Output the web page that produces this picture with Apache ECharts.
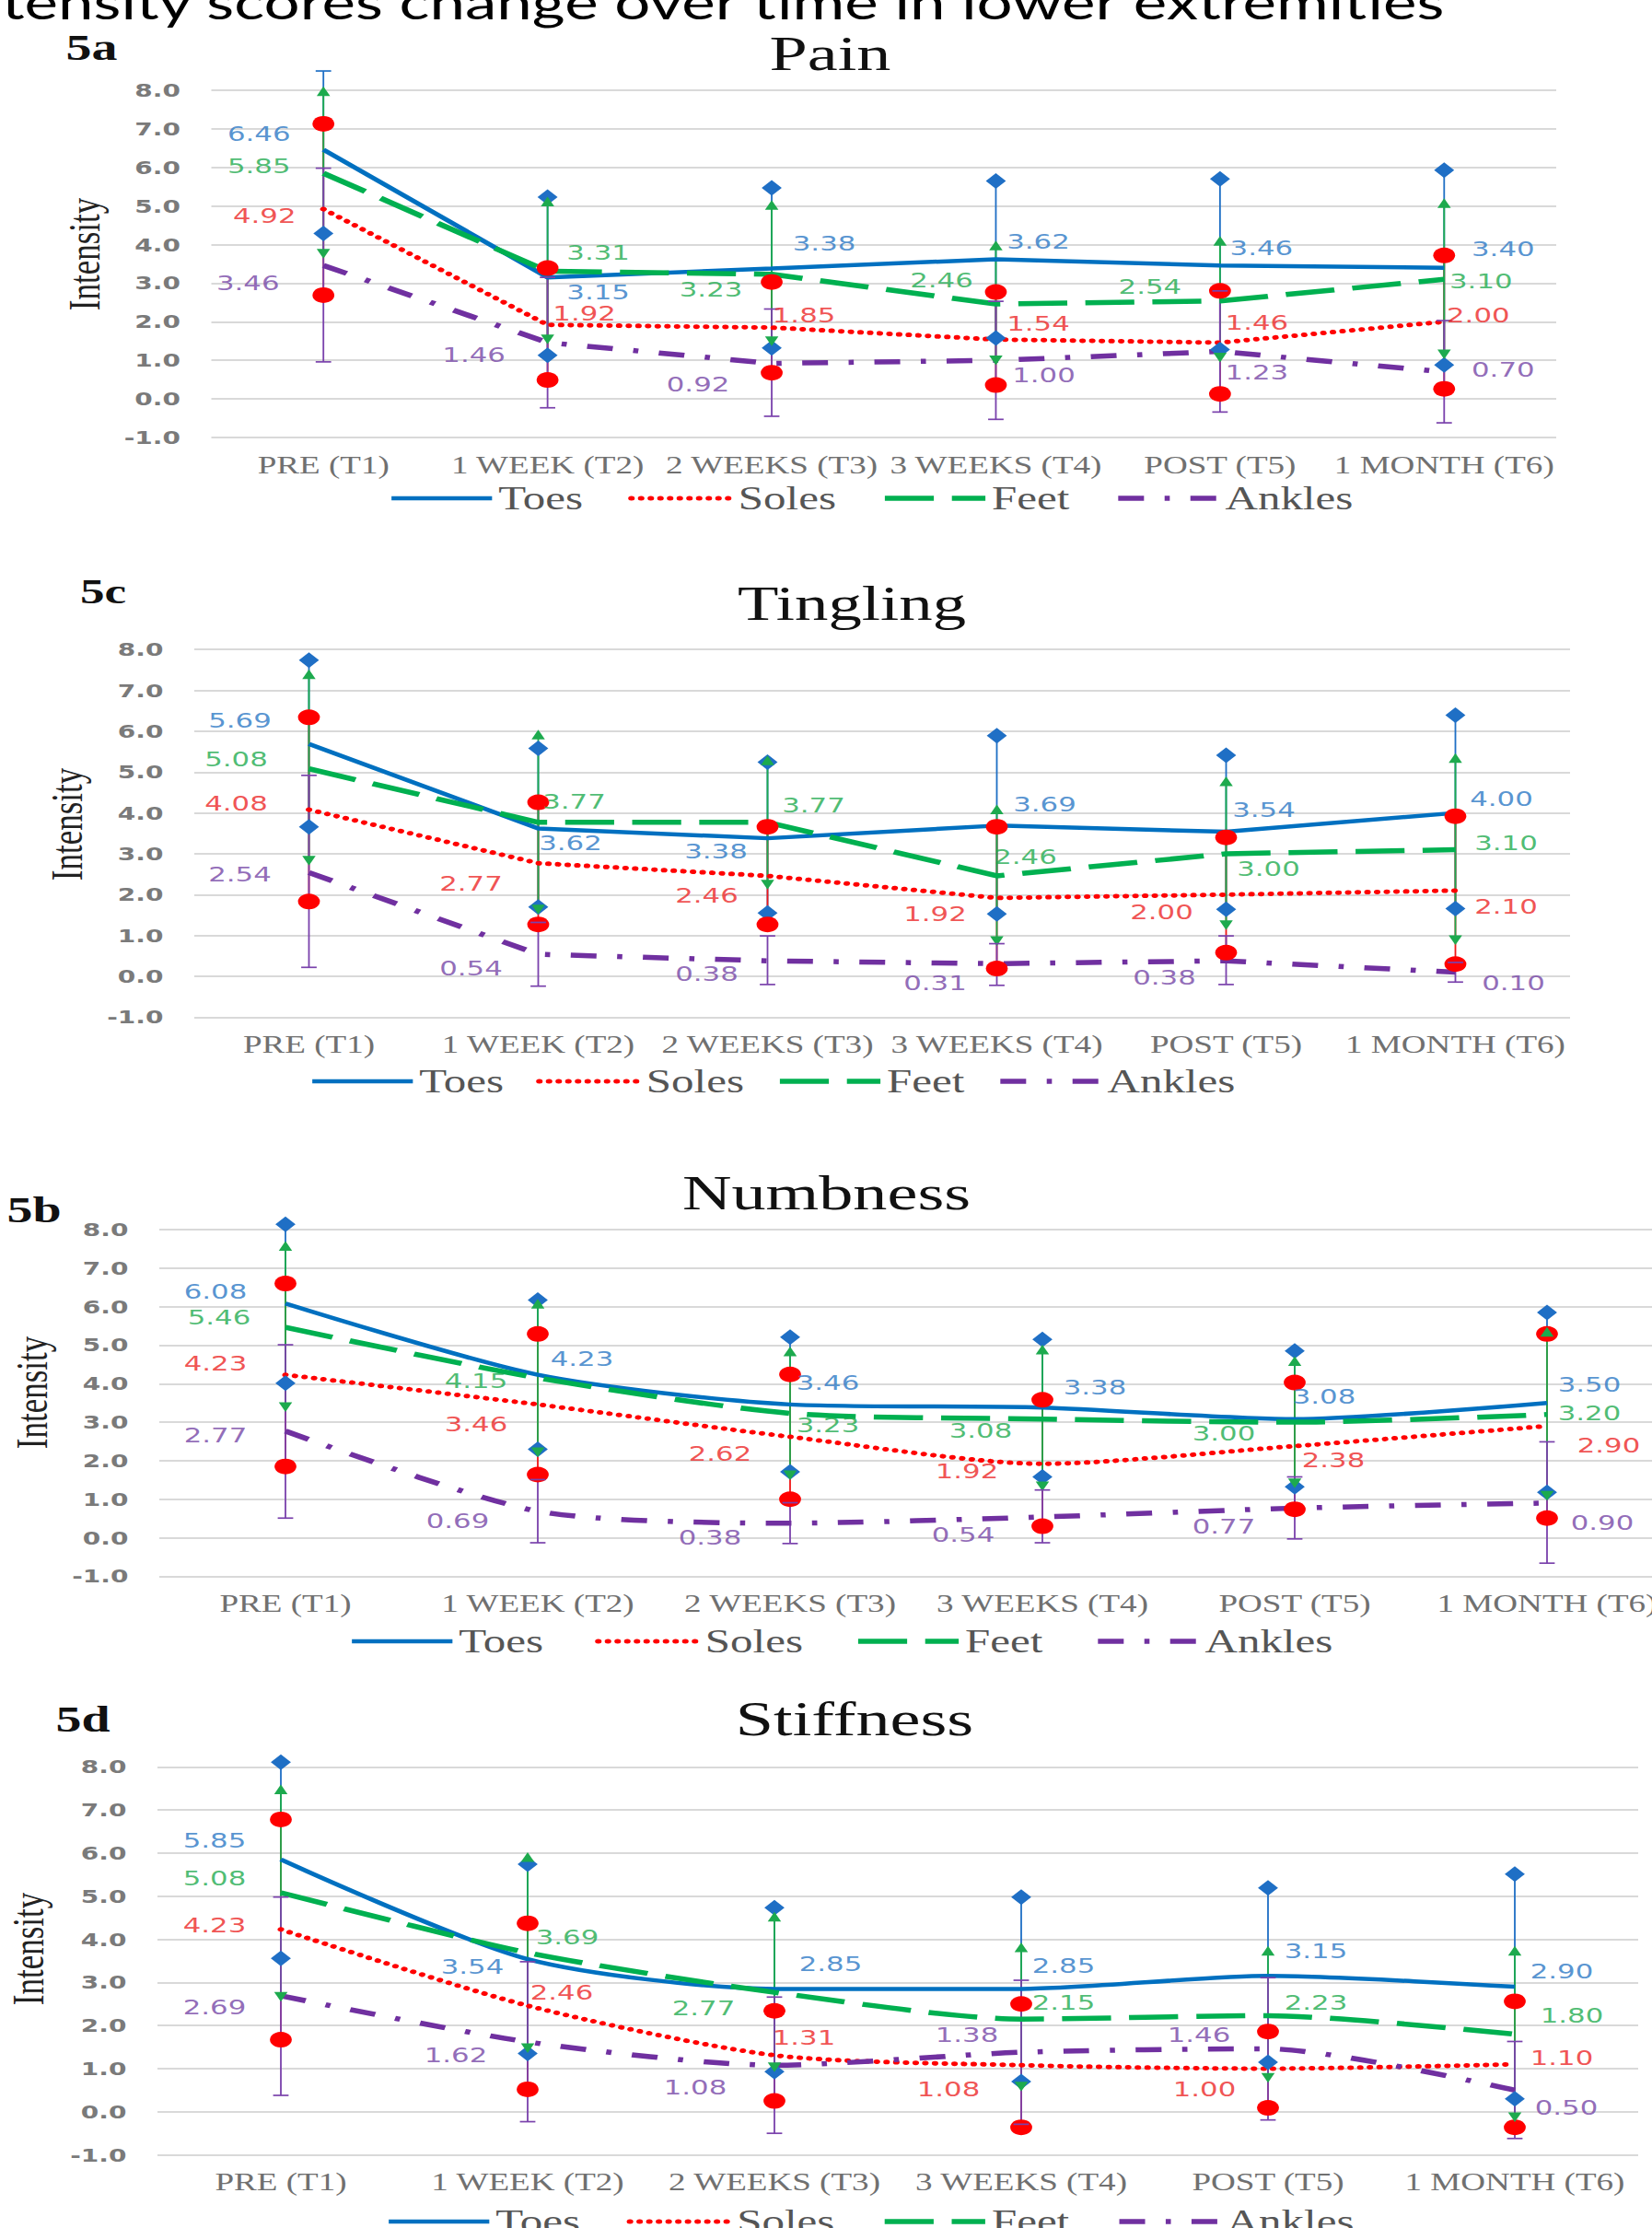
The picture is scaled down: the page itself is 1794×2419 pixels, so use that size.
<!DOCTYPE html>
<html>
<head>
<meta charset="utf-8">
<script src="https://cdn.jsdelivr.net/npm/echarts@6/dist/echarts.min.js"></script>
<style>
html,body{margin:0;padding:0;background:#fff;overflow:hidden;width:1794px;height:2419px;}
#chart{width:1282px;height:2419px;transform:scaleX(1.4);transform-origin:0 0;}
</style>
</head>
<body>
<div id="chart"></div>
<script>
// ---------------- data ----------------
const categories = ['PRE (T1)', '1 WEEK (T2)', '2 WEEKS (T3)', '3 WEEKS (T4)', 'POST (T5)', '1 MONTH (T6)'];
const seriesNames = ['Toes', 'Soles', 'Feet', 'Ankles'];
const yMin = -1, yMax = 8, yStep = 1;
const pageTitle = 'tensity scores change over time in lower extremities';

// 5a Pain  (rows: Toes, Soles, Feet, Ankles)
const painMean = [
  [6.46, 3.15, 3.38, 3.62, 3.46, 3.40],
  [4.92, 1.92, 1.85, 1.54, 1.46, 2.00],
  [5.85, 3.31, 3.23, 2.46, 2.54, 3.10],
  [3.46, 1.46, 0.92, 1.00, 1.23, 0.70]
];
const painLow = [
  [4.29, 1.13, 1.32, 1.58, 1.28, 0.88],
  [2.69, 0.49, 0.68, 0.36, 0.13, 0.26],
  [3.78, 1.56, 1.51, 1.02, 1.09, 1.17],
  [0.96, -0.23, -0.45, -0.53, -0.34, -0.62]
];
const painHigh = [
  [8.63, 5.23, 5.47, 5.65, 5.70, 5.93],
  [7.13, 3.39, 3.03, 2.77, 2.80, 3.72],
  [7.96, 5.10, 5.01, 3.96, 4.08, 5.06],
  [5.98, 3.15, 2.33, 2.53, 2.80, 2.03]
];

// 5c Tingling
const tinglingMean = [
  [5.69, 3.62, 3.38, 3.69, 3.54, 4.00],
  [4.08, 2.77, 2.46, 1.92, 2.00, 2.10],
  [5.08, 3.77, 3.77, 2.46, 3.00, 3.10],
  [2.54, 0.54, 0.38, 0.31, 0.38, 0.10]
];
const tinglingLow = [
  [3.66, 1.70, 1.55, 1.53, 1.64, 1.66],
  [1.83, 1.27, 1.27, 0.19, 0.58, 0.30],
  [2.85, 1.65, 2.26, 0.88, 1.27, 0.90],
  [0.22, -0.24, -0.20, -0.22, -0.20, -0.14]
];
const tinglingHigh = [
  [7.74, 5.58, 5.24, 5.89, 5.41, 6.39],
  [6.34, 4.26, 3.66, 3.66, 3.40, 3.92],
  [7.38, 5.90, 5.27, 4.07, 4.76, 5.33],
  [4.92, 1.32, 0.99, 0.80, 0.99, 0.34]
];

// 5b Numbness
const numbnessMean = [
  [6.08, 4.23, 3.46, 3.38, 3.08, 3.50],
  [4.23, 3.46, 2.62, 1.92, 2.38, 2.90],
  [5.46, 4.15, 3.23, 3.08, 3.00, 3.20],
  [2.77, 0.69, 0.38, 0.54, 0.77, 0.90]
];
const numbnessLow = [
  [4.01, 2.30, 1.71, 1.58, 1.32, 1.18],
  [1.85, 1.64, 1.00, 0.30, 0.74, 0.51],
  [3.41, 2.24, 1.64, 1.35, 1.43, 1.11],
  [0.51, -0.13, -0.15, -0.13, -0.03, -0.66]
];
const numbnessHigh = [
  [8.14, 6.17, 5.21, 5.15, 4.85, 5.85],
  [6.60, 5.29, 4.24, 3.58, 4.03, 5.29],
  [7.56, 6.06, 4.82, 4.87, 4.57, 5.33],
  [5.01, 1.51, 0.91, 1.24, 1.58, 2.49]
];

// 5d Stiffness
const stiffnessMean = [
  [5.85, 3.54, 2.85, 2.85, 3.15, 2.90],
  [4.23, 2.46, 1.31, 1.08, 1.00, 1.10],
  [5.08, 3.69, 2.77, 2.15, 2.23, 1.80],
  [2.69, 1.62, 1.08, 1.38, 1.46, 0.50]
];
const stiffnessLow = [
  [3.56, 1.35, 0.93, 0.70, 1.15, 0.30],
  [1.67, 0.52, 0.25, -0.36, 0.09, -0.36],
  [2.68, 1.49, 1.05, 0.60, 0.80, -0.11],
  [0.38, -0.23, -0.50, -0.29, -0.19, -0.62]
];
const stiffnessHigh = [
  [8.11, 5.74, 4.73, 4.98, 5.19, 5.51],
  [6.78, 4.37, 2.34, 2.50, 1.86, 2.56],
  [7.46, 5.89, 4.51, 3.80, 3.72, 3.72],
  [4.98, 3.48, 2.66, 3.05, 3.11, 1.63]
];

// ---------------- label placement (style, px offsets from point) ----------------
const painLabelOffsets = [
  [[-70,-17],[55,16],[57,-27],[46,-19],[45,-19],[64,-20]],
  [[-64,7],[40,-12],[35,-13],[46,-17],[40,-22],[37,-7]],
  [[-70,-8],[55,-20],[-66,16],[-59,-26],[-76,-16],[40,2]],
  [[-82,19],[-80,13],[-80,23],[52,16],[40,23],[64,-3]]
];
const tinglingLabelOffsets = [
  [[-75,-25],[35,16],[-56,14],[52,-23],[41,-24],[50,-15]],
  [[-79,-7],[-73,22],[-66,21],[-67,17],[-70,19],[55,17]],
  [[-79,-11],[39,-23],[50,-19],[31,-21],[46,16],[55,-7]],
  [[-75,2],[-73,15],[-66,14],[-67,21],[-67,18],[63,12]]
];
const numbnessLabelOffsets = [
  [[-76,-13],[48,-17],[41,-24],[57,-22],[32,-25],[46,-20]],
  [[-76,-12],[-67,21],[-76,18],[-82,8],[42,15],[67,21]],
  [[-72,-11],[-67,3],[41,13],[-67,12],[-77,12],[46,-2]],
  [[-76,4],[-87,10],[-87,16],[-86,19],[-77,20],[60,21]]
];
const stiffnessLabelOffsets = [
  [[-72,-21],[-60,8],[61,-27],[46,-25],[52,-27],[51,-17]],
  [[-72,-5],[37,-14],[32,-19],[-79,26],[-69,22],[51,-7]],
  [[-72,-16],[43,-17],[-77,17],[46,-18],[52,-14],[62,-20]],
  [[-72,12],[-78,14],[-86,24],[-59,-19],[-75,-15],[56,19]]
];

// ---------------- styles ----------------
const S = 1.4;               // horizontal stretch of the reference picture
const rx = v => v / S;
const CLIP_MAX = 8.5;
const lineColors  = ['#0070C0', '#FF0000', '#00B050', '#7030A0'];
const labelColors = ['#2B78C5', '#EC2626', '#1FAB4F', '#7646A6'];
const barColors   = ['#1F6FC5', '#F01818', '#1DAA4E', '#7A42AC'];
const lineStyles = [
  {width: 4.5, type: 'solid'},
  {width: 5, type: [0.1, 7.4], cap: 'round'},
  {width: 5.5, type: [38, 14]},
  {width: 5.5, type: [20, 16, 4, 16]}
];

const panels = [
  {title: 'Pain', tag: '5a', mean: painMean, low: painLow, high: painHigh, off: painLabelOffsets, smooth: 0,
   grid: [229.5, 98, 1690, 475], legend: [422, 541, 35], titlePos: [901.5, 58.8, 53], tagPos: [99.5, 51.5, 40], yName: [97, 276]},
  {title: 'Tingling', tag: '5c', mean: tinglingMean, low: tinglingLow, high: tinglingHigh, off: tinglingLabelOffsets, smooth: 0,
   grid: [211, 705.2, 1705, 1104.4], legend: [336, 1174, 25], titlePos: [925, 655.5, 52], tagPos: [112, 642, 38], yName: [78, 895]},
  {title: 'Numbness', tag: '5b', mean: numbnessMean, low: numbnessLow, high: numbnessHigh, off: numbnessLabelOffsets, smooth: 0.25,
   grid: [173, 1335, 1817, 1711.4], legend: [379, 1782, 40], titlePos: [897.5, 1295, 53], tagPos: [37, 1314, 40], yName: [40, 1512]},
  {title: 'Stiffness', tag: '5d', mean: stiffnessMean, low: stiffnessLow, high: stiffnessHigh, off: stiffnessLabelOffsets, smooth: 0.25,
   grid: [171, 1918.3, 1779, 2339.6], legend: [419, 2412, 36], titlePos: [928, 1866.8, 53], tagPos: [90, 1867, 40], yName: [36, 2116]}
];

// ---------------- renderers for error bars ----------------
function barRender(params, api) {
  const i = api.value(0), lo = api.value(1), hi = api.value(2), s = api.value(3);
  const a = api.coord([i, lo]);
  const b = api.coord([i, Math.min(hi, CLIP_MAX)]);
  return {type: 'line', shape: {x1: a[0], y1: a[1], x2: b[0], y2: b[1]},
          style: {stroke: barColors[s], lineWidth: 1.3}};
}
function cap(p, color) {
  return {type: 'line', shape: {x1: p[0] - 6, y1: p[1], x2: p[0] + 6, y2: p[1]}, style: {stroke: color, lineWidth: 1.7}};
}
function markRender(params, api) {
  const i = api.value(0), lo = api.value(1), hi = api.value(2), s = api.value(3);
  const clipped = hi > CLIP_MAX;
  const a = api.coord([i, lo]);
  const b = api.coord([i, Math.min(hi, CLIP_MAX)]);
  const c = barColors[s];
  const kids = [];
  const diamond = p => ({type: 'polygon', shape: {points: [[p[0], p[1] - 8.5], [p[0] + 7.8, p[1]], [p[0], p[1] + 8.5], [p[0] - 7.8, p[1]]]}, style: {fill: c}});
  const circle = p => ({type: 'circle', shape: {cx: p[0], cy: p[1], r: 8.5}, style: {fill: '#FF0000'}});
  const triUp = p => ({type: 'polygon', shape: {points: [[p[0], p[1] - 6], [p[0] + 5.2, p[1] + 4.5], [p[0] - 5.2, p[1] + 4.5]]}, style: {fill: c}});
  const triDown = p => ({type: 'polygon', shape: {points: [[p[0], p[1] + 6], [p[0] + 5.2, p[1] - 4.5], [p[0] - 5.2, p[1] - 4.5]]}, style: {fill: c}});
  if (s === 0) { kids.push(diamond(a)); kids.push(clipped ? cap(b, c) : diamond(b)); }
  else if (s === 1) { kids.push(circle(a)); kids.push(clipped ? cap(b, c) : circle(b)); }
  else if (s === 2) { kids.push(triDown(a)); kids.push(clipped ? cap(b, c) : triUp(b)); }
  else { kids.push(cap(a, c)); kids.push(cap(b, c)); }
  return {type: 'group', children: kids};
}

// ---------------- build option ----------------
const grids = [], xAxes = [], yAxes = [], legends = [], series = [], graphics = [];

// page title (cut off at the top edge, as in the reference), sized to the reference width
(function () {
  const ctx = document.createElement('canvas').getContext('2d');
  ctx.font = '100px Lato';
  const w = ctx.measureText(pageTitle).width || 2250;
  const fs = 100 * rx(1571) / w;
  graphics.push({type: 'text', x: rx(2), y: 21 - 0.387 * fs, silent: true,
    style: {text: pageTitle, fontFamily: 'Lato', fontSize: fs, fill: '#000', align: 'left', verticalAlign: 'middle'}});
})();

panels.forEach((p, pi) => {
  const [L, T, R, B] = p.grid;
  grids.push({left: rx(L), top: T, width: rx(R - L), height: B - T, containLabel: false, outerBoundsMode: 'none'});
  xAxes.push({gridIndex: pi, type: 'category', data: categories, boundaryGap: true,
    axisLine: {show: false}, axisTick: {show: false}, splitLine: {show: false},
    axisLabel: {interval: 0, margin: 16, color: '#707070', fontFamily: 'Liberation Serif', fontSize: 26.5}});
  yAxes.push({gridIndex: pi, type: 'value', min: yMin, max: yMax, interval: yStep,
    axisLine: {show: false}, axisTick: {show: false},
    splitLine: {show: true, lineStyle: {color: '#d9d9d9', width: 2}},
    axisLabel: {formatter: v => v.toFixed(1), margin: 24, color: '#7a7a7a', fontFamily: 'DejaVu Sans', fontWeight: 'bold', fontSize: 20}});
  legends.push({data: seriesNames, orient: 'horizontal', left: rx(p.legend[0]), top: p.legend[1] - 17.5,
    padding: 0, itemGap: p.legend[2], itemWidth: 78, itemHeight: 14,
    itemStyle: {opacity: 0}, lineStyle: {width: 'inherit'},
    textStyle: {fontFamily: 'Liberation Serif', fontSize: 35, color: '#555'}, selectedMode: false});

  // texts
  graphics.push({type: 'text', x: rx(p.titlePos[0]), y: p.titlePos[1], silent: true,
    style: {text: p.title, fontFamily: 'Liberation Serif', fontSize: p.titlePos[2], fill: '#111', align: 'center', verticalAlign: 'middle'}});
  graphics.push({type: 'text', x: rx(p.tagPos[0]), y: p.tagPos[1], silent: true,
    style: {text: p.tag, fontFamily: 'Liberation Serif', fontWeight: 'bold', fontSize: p.tagPos[2], fill: '#111', align: 'center', verticalAlign: 'middle'}});
  graphics.push({type: 'text', x: rx(p.yName[0]) - 4, y: p.yName[1], rotation: Math.PI / 2, silent: true,
    style: {text: 'Intensity', fontFamily: 'Liberation Serif', fontSize: 35, fill: '#222', align: 'center', verticalAlign: 'middle'}});

  const barData = [];
  for (let s = 0; s < 4; s++) {
    for (let i = 0; i < categories.length; i++) barData.push([i, p.low[s][i], p.high[s][i], s]);
  }
  series.push({type: 'custom', name: 'sd-lines-' + pi, xAxisIndex: pi, yAxisIndex: pi, data: barData,
    renderItem: barRender, z: 2, silent: true, clip: false});
  for (let s = 0; s < 4; s++) {
    series.push({type: 'line', name: seriesNames[s], xAxisIndex: pi, yAxisIndex: pi, data: p.mean[s],
      symbol: 'none', smooth: p.smooth, z: 3, silent: true,
      lineStyle: Object.assign({color: lineColors[s]}, lineStyles[s]), itemStyle: {color: lineColors[s]}});
  }
  series.push({type: 'custom', name: 'sd-marks-' + pi, xAxisIndex: pi, yAxisIndex: pi, data: barData,
    renderItem: markRender, z: 4, silent: true, clip: false});
  for (let s = 0; s < 4; s++) {
    series.push({type: 'scatter', name: 'lbl-' + pi + '-' + s, xAxisIndex: pi, yAxisIndex: pi,
      symbolSize: 1, itemStyle: {color: 'rgba(0,0,0,0)'}, z: 6, silent: true,
      data: p.mean[s].map((v, i) => ({value: [i, v], label: {offset: [rx(p.off[s][i][0]), p.off[s][i][1]]}})),
      label: {show: true, position: 'inside', formatter: d => d.value[1].toFixed(2),
        color: labelColors[s], fontFamily: 'DejaVu Sans', fontSize: 22, lineHeight: 20}});
  }
});

const chart = echarts.init(document.getElementById('chart'), null, {renderer: 'svg'});
chart.setOption({
  animation: false,
  backgroundColor: '#fff',
  grid: grids, xAxis: xAxes, yAxis: yAxes, legend: legends, series: series,
  graphic: {elements: graphics}
});
</script>
</body>
</html>
